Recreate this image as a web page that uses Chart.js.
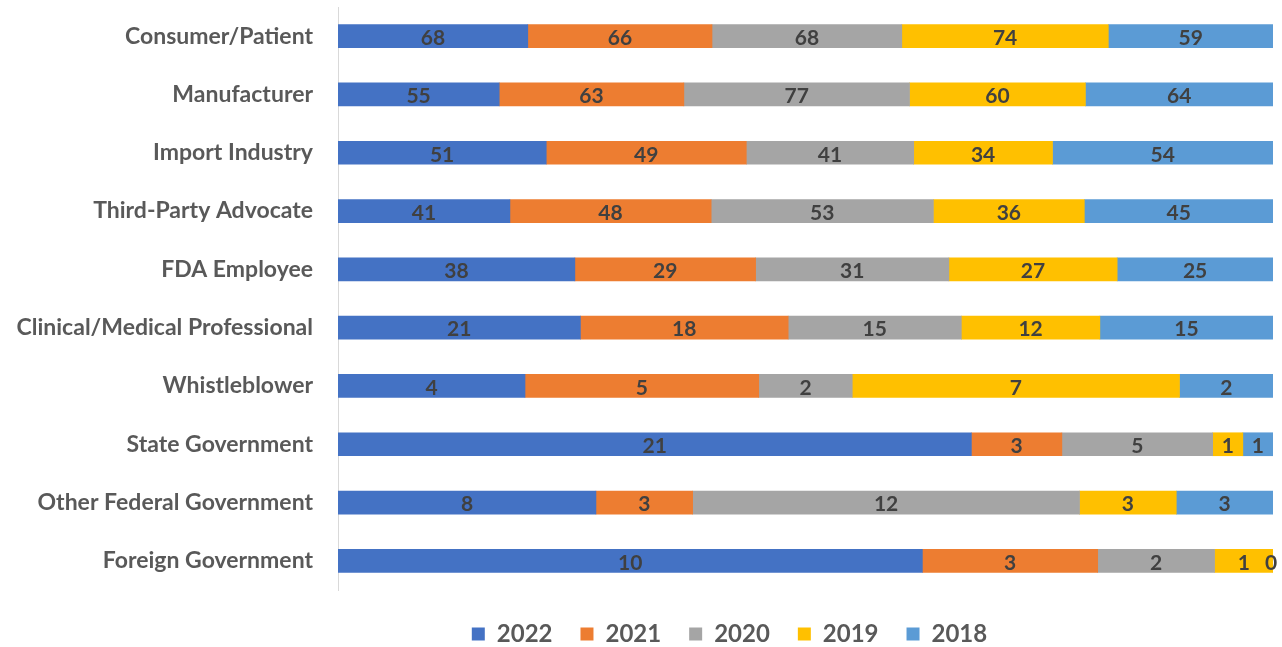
<!DOCTYPE html>
<html>
<head>
<meta charset="utf-8">
<script src="https://cdn.jsdelivr.net/npm/chart.js@4.4.1/dist/chart.umd.min.js"></script>
<style>
html,body{margin:0;padding:0;background:#fff;}
#wrap{width:1282px;height:647px;position:relative;}
</style>
</head>
<body>
<div id="wrap"><canvas id="c"></canvas></div>
<script>
const categories = ["Consumer/Patient","Manufacturer","Import Industry","Third-Party Advocate","FDA Employee","Clinical/Medical Professional","Whistleblower","State Government","Other Federal Government","Foreign Government"];
const seriesNames = ["2022","2021","2020","2019","2018"];
const v2022 = [68,55,51,41,38,21,4,21,8,10];
const v2021 = [66,63,49,48,29,18,5,3,3,3];
const v2020 = [68,77,41,53,31,15,2,5,12,2];
const v2019 = [74,60,34,36,27,12,7,1,3,1];
const v2018 = [59,64,54,45,25,15,2,1,3,0];
const colors = ["#4472C4","#ED7D31","#A5A5A5","#FFC000","#5B9BD5"];

const raw = [v2022,v2021,v2020,v2019,v2018];
const totals = categories.map((_,i)=>raw.reduce((s,a)=>s+a[i],0));

const labelPlugin = {
  id:'barLabels',
  afterDatasetsDraw(chart){
    const ctx = chart.ctx;
    ctx.save();
    ctx.font = 'bold 21px Lato, "Open Sans", sans-serif';
    ctx.fillStyle = '#404040';
    ctx.textAlign = 'center';
    ctx.textBaseline = 'middle';
    chart.data.datasets.forEach((ds,di)=>{
      const meta = chart.getDatasetMeta(di);
      meta.data.forEach((el,i)=>{
        const v = ds.rawValues[i];
        let cx = (el.x + el.base)/2;
        if (v === 0) cx = el.x - 2;
        ctx.fillText(String(v), cx, el.y+2);
      });
    });
    ctx.restore();
  }
};

const legendHeightPlugin = {
  id:'legendHeight',
  beforeLayout(chart){
    const lg = chart.legend;
    if (lg && !lg._patched){
      const origFit = lg.fit;
      lg.fit = function(){ origFit.call(this); this.height = 57; };
      const origDraw = lg.draw;
      lg.draw = function(){
        const ctx = this.ctx;
        ctx.save();
        ctx.translate(93, 4);
        origDraw.apply(this, arguments);
        ctx.restore();
      };
      lg._patched = true;
    }
  }
};

new Chart(document.getElementById('c'), {
  type:'bar',
  data:{
    labels:categories,
    datasets: raw.map((arr,k)=>({
      label: seriesNames[k],
      data: arr.map((v,i)=>v/totals[i]*100),
      rawValues: arr,
      backgroundColor: colors[k],
      borderWidth:0,
      barThickness:23
    }))
  },
  options:{
    indexAxis:'y',
    responsive:true,
    maintainAspectRatio:false,
    animation:false,
    layout:{padding:{top:7,right:9,left:0,bottom:0}},
    scales:{
      x:{stacked:true,min:0,max:100,display:false},
      y:{stacked:true,
         grid:{display:false,drawTicks:false},
         border:{display:true,color:'#d9d9d9',width:1},
         ticks:{color:'#595959',padding:25,font:{family:'Lato, "Open Sans", sans-serif',size:23,weight:'bold'}},
         afterFit(scale){ scale.width = 338; scale.paddingTop = 0; scale.paddingBottom = 0; }
      }
    },
    plugins:{
      legend:{position:'bottom',
        labels:{color:'#595959',boxWidth:13,boxHeight:13,padding:28,
          font:{family:'Lato, "Open Sans", sans-serif',size:24,weight:'bold'}}},
      tooltip:{enabled:false}
    }
  },
  plugins:[legendHeightPlugin,labelPlugin]
});
</script>
</body>
</html>
